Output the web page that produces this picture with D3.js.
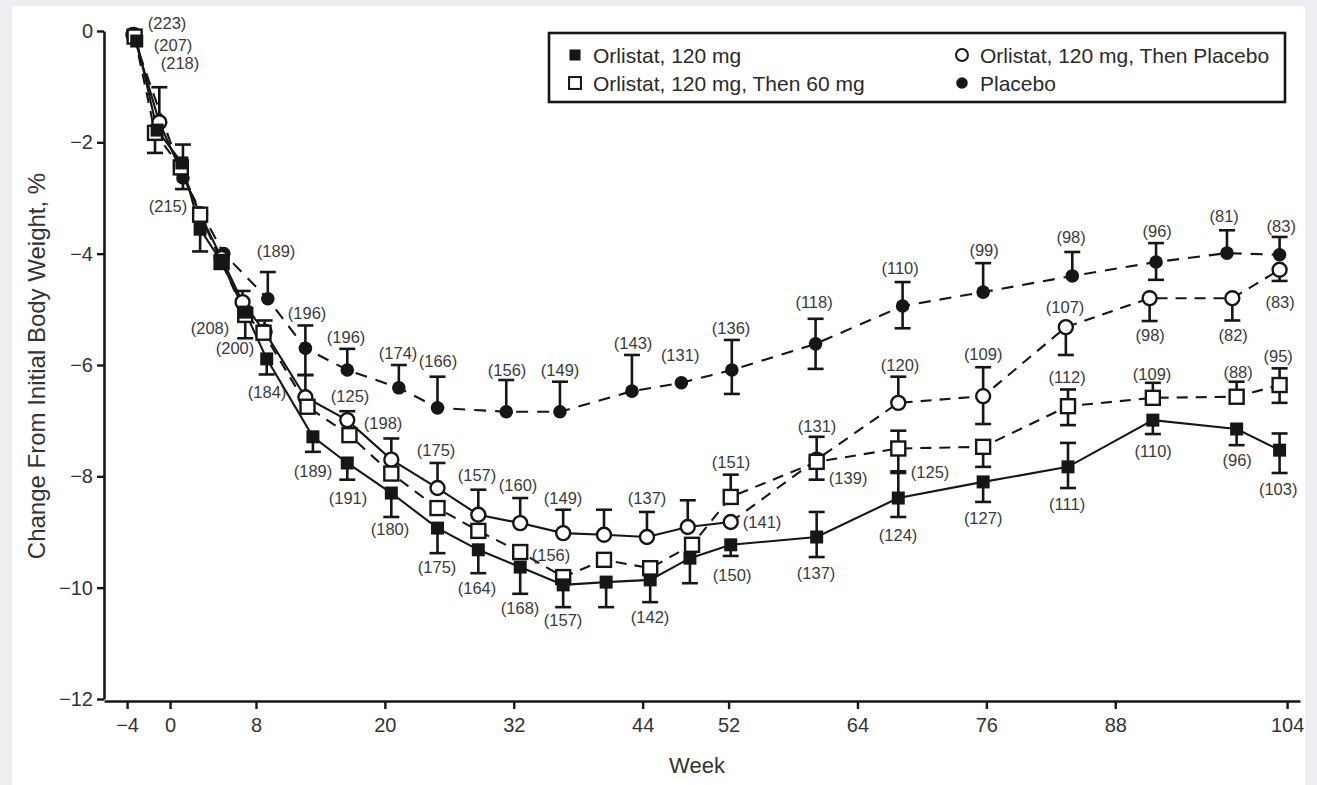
<!DOCTYPE html>
<html>
<head>
<meta charset="utf-8">
<script src="https://cdn.jsdelivr.net/npm/d3@7"></script>
<style>
  body { margin: 0; background: #eceef2; }
  svg { display: block; font-family: "Liberation Sans", Arial, sans-serif; }
</style>
</head>
<body>
<svg id="chart" width="1317" height="785"></svg>
<script>
"use strict";

// ---- data (week, % change, SE bar drawn up / down) ----
const seriesNames = ["Orlistat, 120 mg", "Orlistat, 120 mg, Then 60 mg",
                     "Orlistat, 120 mg, Then Placebo", "Placebo"];

// Orlistat 120 mg (filled square)
const orlWeeks = [-3.1, -1.2, 1.1, 2.8, 4.8, 7.0, 9.0, 13.3, 16.5, 20.6, 24.9, 28.7, 32.6, 36.6, 40.6, 44.7, 48.4, 52.2, 60.2, 67.8, 75.7, 83.6, 91.5, 99.3, 103.3];
const orlMean  = [-0.18, -1.78, -2.37, -3.56, -4.15, -5.05, -5.89, -7.29, -7.76, -8.30, -8.93, -9.32, -9.63, -9.95, -9.90, -9.86, -9.47, -9.23, -9.09, -8.39, -8.10, -7.83, -6.99, -7.15, -7.53];
const orlErrUp = [0, 0, 0, 0, 0, 0, 0, 0, 0, 0, 0, 0, 0, 0, 0, 0, 0, 0, 0.45, 0.45, 0, 0.43, 0, 0, 0.30];
const orlErrDn = [0, 0, 0, 0.40, 0, 0, 0.28, 0.27, 0.30, 0.43, 0.45, 0.42, 0.48, 0.40, 0.45, 0.40, 0.45, 0.20, 0.36, 0.34, 0.36, 0.38, 0.25, 0.29, 0.41];

// Orlistat 120 mg, then 60 mg (open square)
const o60Weeks = [-3.3, -1.4, 1.0, 2.8, 4.8, 7.0, 8.7, 12.8, 16.7, 20.6, 24.9, 28.7, 32.6, 36.6, 40.4, 44.7, 48.6, 52.2, 60.2, 67.8, 75.7, 83.6, 91.5, 99.3, 103.3];
const o60Mean  = [-0.10, -1.83, -2.45, -3.30, -4.15, -5.10, -5.42, -6.75, -7.26, -7.95, -8.57, -8.98, -9.36, -9.81, -9.50, -9.65, -9.23, -8.37, -7.74, -7.50, -7.47, -6.74, -6.59, -6.57, -6.36];
const o60ErrUp = [0, 0, 0, 0, 0, 0, 0, 0, 0, 0, 0, 0, 0, 0, 0, 0, 0, 0.40, 0.45, 0.32, 0, 0.30, 0.27, 0.27, 0.30];
const o60ErrDn = [0, 0.36, 0, 0, 0, 0.42, 0, 0, 0, 0, 0, 0, 0, 0, 0, 0, 0, 0, 0.32, 0.41, 0.36, 0.34, 0, 0, 0.32];

// Orlistat 120 mg, then placebo (open circle)
const oplWeeks = [-3.4, -1.0, 2.8, 4.8, 6.75, 8.8, 12.6, 16.5, 20.6, 24.9, 28.7, 32.6, 36.6, 40.4, 44.4, 48.2, 52.2, 60.2, 67.8, 75.7, 83.4, 91.2, 98.9, 103.3];
const oplMean  = [-0.07, -1.64, -3.29, -4.08, -4.87, -5.40, -6.58, -6.99, -7.70, -8.21, -8.69, -8.84, -9.02, -9.05, -9.09, -8.91, -8.82, -7.70, -6.68, -6.56, -5.32, -4.80, -4.80, -4.29];
const oplErrUp = [0, 0.63, 0, 0, 0.20, 0.20, 0.40, 0.16, 0.38, 0.45, 0.45, 0.45, 0.42, 0.45, 0.45, 0.48, 0, 0, 0.47, 0.52, 0, 0, 0, 0];
const oplErrDn = [0, 0, 0, 0, 0, 0, 0, 0, 0, 0, 0, 0, 0, 0, 0, 0, 0, 0, 0, 0.50, 0.50, 0.41, 0.40, 0.20];

// Placebo (filled circle)
const plaWeeks = [-3.5, 1.2, 5.0, 9.1, 12.6, 16.5, 21.3, 24.9, 31.3, 36.3, 43.0, 47.6, 52.3, 60.1, 68.2, 75.7, 84.0, 91.8, 98.4, 103.3];
const plaMean  = [-0.05, -2.64, -4.00, -4.81, -5.70, -6.09, -6.41, -6.77, -6.84, -6.84, -6.47, -6.32, -6.09, -5.62, -4.94, -4.69, -4.40, -4.15, -3.99, -4.02];
const plaErrUp = [0, 0.60, 0, 0.48, 0.41, 0.38, 0.41, 0.56, 0.57, 0.54, 0.65, 0, 0.54, 0.45, 0.43, 0.52, 0.43, 0.34, 0.41, 0.32];
const plaErrDn = [0, 0.20, 0, 0, 0.48, 0, 0, 0, 0, 0, 0, 0, 0.43, 0.45, 0.40, 0, 0, 0.32, 0, 0];

// number of patients, anchored in data units [text, week, value]
const nLabels = [
  ["(223)", -0.28, 0.14], ["(207)", 0.28, -0.25], ["(218)", 0.93, -0.57], ["(215)", -0.19, -3.14],
  ["(189)", 9.87, -3.95], ["(208)", 3.72, -5.34], ["(200)", 6.05, -5.69], ["(184)", 9.03, -6.49],
  ["(196)", 12.76, -5.07], ["(196)", 16.39, -5.50], ["(174)", 21.23, -5.78], ["(166)", 24.95, -5.93],
  ["(125)", 16.76, -6.56], ["(198)", 19.83, -7.04], ["(189)", 13.31, -7.90], ["(191)", 16.57, -8.39],
  ["(175)", 24.77, -7.53], ["(180)", 20.48, -8.95], ["(157)", 28.58, -7.98], ["(160)", 32.4, -8.16],
  ["(149)", 36.59, -8.39], ["(175)", 24.86, -9.63], ["(164)", 28.58, -10.01], ["(156)", 35.47, -9.41],
  ["(168)", 32.59, -10.36], ["(157)", 36.59, -10.58], ["(137)", 44.41, -8.39], ["(142)", 44.69, -10.53],
  ["(156)", 31.38, -6.09], ["(149)", 36.31, -6.09], ["(143)", 43.11, -5.60], ["(131)", 47.49, -5.82],
  ["(136)", 52.23, -5.33], ["(151)", 52.23, -7.74], ["(141)", 55.12, -8.82], ["(150)", 52.33, -9.77],
  ["(118)", 59.96, -4.87], ["(131)", 60.24, -7.10], ["(139)", 63.13, -8.03], ["(137)", 60.15, -9.74],
  ["(110)", 67.97, -4.26], ["(120)", 67.97, -6.00], ["(125)", 70.76, -7.92], ["(124)", 67.78, -9.05],
  ["(99)", 75.79, -3.93], ["(109)", 75.7, -5.80], ["(127)", 75.7, -8.75],
  ["(98)", 83.89, -3.70], ["(107)", 83.33, -4.96], ["(112)", 83.52, -6.22], ["(111)", 83.52, -8.50],
  ["(96)", 91.9, -3.59], ["(98)", 91.25, -5.46], ["(109)", 91.43, -6.16], ["(110)", 91.53, -7.54],
  ["(81)", 98.14, -3.32], ["(82)", 98.98, -5.46], ["(88)", 99.44, -6.13], ["(96)", 99.35, -7.71],
  ["(83)", 103.45, -3.50], ["(83)", 103.35, -4.87], ["(95)", 103.17, -5.84], ["(103)", 103.17, -8.23]
];

const xTicks = [-4, 0, 8, 20, 32, 44, 52, 64, 76, 88, 104];
const yTicks = [0, -2, -4, -6, -8, -10, -12];

// ---- drawing ----
const ink = "#161616";
const svg = d3.select("#chart");

// white sheet over the grey page
svg.append("rect").attr("x", 12).attr("y", 6).attr("width", 1293).attr("height", 779).attr("fill", "#fff");

const x = d3.scaleLinear().domain([-6.15, 105.2]).range([104, 1300]);
const y = d3.scaleLinear().domain([-12, 0]).range([699, 31]);

const series = {
  orl: {name: seriesNames[0], weeks: orlWeeks, mean: orlMean, up: orlErrUp, dn: orlErrDn, marker: "fsquare", dash: null, dashAfter: null},
  o60: {name: seriesNames[1], weeks: o60Weeks, mean: o60Mean, up: o60ErrUp, dn: o60ErrDn, marker: "osquare", dash: "11,8", dashAfter: null},
  opl: {name: seriesNames[2], weeks: oplWeeks, mean: oplMean, up: oplErrUp, dn: oplErrDn, marker: "ocircle", dash: "11,8", dashAfter: 52.2},
  pla: {name: seriesNames[3], weeks: plaWeeks, mean: plaMean, up: plaErrUp, dn: plaErrDn, marker: "fcircle", dash: "12,9", dashAfter: null}
};
// stacking order, bottom to top
const drawOrder = [series.pla, series.opl, series.o60, series.orl];

const line = d3.line().x(d => x(d.w)).y(d => y(d.v));

function points(s) {
  return s.weeks.map((w, i) => ({w: w, v: s.mean[i], up: s.up[i], dn: s.dn[i]}));
}

function drawMarker(g, type) {
  if (type === "fsquare") {
    g.append("rect").attr("x", -6.5).attr("y", -6.5).attr("width", 13).attr("height", 13).attr("fill", ink);
  } else if (type === "osquare") {
    g.append("rect").attr("x", -7).attr("y", -7).attr("width", 14).attr("height", 14)
      .attr("fill", "#fff").attr("stroke", ink).attr("stroke-width", 2.4);
  } else if (type === "ocircle") {
    g.append("circle").attr("r", 7).attr("fill", "#fff").attr("stroke", ink).attr("stroke-width", 2.4);
  } else {
    g.append("circle").attr("r", 6.8).attr("fill", ink);
  }
}

// lines
const lineG = svg.append("g").attr("fill", "none").attr("stroke", ink).attr("stroke-width", 2.1);
drawOrder.forEach(s => {
  const pts = points(s);
  if (s.dashAfter !== null) {
    lineG.append("path").attr("d", line(pts.filter(p => p.w <= s.dashAfter)));
    lineG.append("path").attr("d", line(pts.filter(p => p.w >= s.dashAfter))).attr("stroke-dasharray", s.dash);
  } else {
    lineG.append("path").attr("d", line(pts)).attr("stroke-dasharray", s.dash);
  }
});

// error bars and markers
drawOrder.forEach(s => {
  const g = svg.append("g");
  points(s).forEach(p => {
    [["up", p.up], ["dn", p.dn]].forEach(([dir, e]) => {
      if (!e) return;
      const end = dir === "up" ? p.v + e : p.v - e;
      g.append("line").attr("x1", x(p.w)).attr("x2", x(p.w)).attr("y1", y(p.v)).attr("y2", y(end))
        .attr("stroke", ink).attr("stroke-width", 2.6);
      g.append("line").attr("x1", x(p.w) - 8).attr("x2", x(p.w) + 8).attr("y1", y(end)).attr("y2", y(end))
        .attr("stroke", ink).attr("stroke-width", 2.6);
    });
  });
  points(s).forEach(p => {
    drawMarker(g.append("g").attr("transform", `translate(${x(p.w)},${y(p.v)})`), s.marker);
  });
});

// n labels
svg.append("g").selectAll("text").data(nLabels).enter().append("text")
  .attr("x", d => x(d[1])).attr("y", d => y(d[2]))
  .attr("text-anchor", "middle").attr("dominant-baseline", "central")
  .attr("font-size", 16.5).attr("fill", "#3a3a3a")
  .text(d => d[0]);

// axes
const minus = d => d < 0 ? "\u2212" + Math.abs(d) : String(d);

const yAxis = svg.append("g").attr("transform", "translate(104,0)")
  .call(d3.axisLeft(y).tickValues(yTicks).tickFormat(minus).tickSize(7).tickSizeOuter(0).tickPadding(4));
const xAxis = svg.append("g").attr("transform", `translate(0,${y(-12) + 2})`)
  .call(d3.axisBottom(x).tickValues(xTicks).tickFormat(minus).tickSize(8).tickSizeOuter(0).tickPadding(9));

[yAxis, xAxis].forEach(a => {
  a.select(".domain").attr("stroke", ink).attr("stroke-width", 2.6);
  a.selectAll(".tick line").attr("stroke", ink).attr("stroke-width", 2.4);
  a.selectAll(".tick text").attr("font-size", 20).attr("fill", "#333").attr("font-family", "Liberation Sans, Arial, sans-serif");
});

svg.append("text").attr("x", 697).attr("y", 773).attr("text-anchor", "middle")
  .attr("font-size", 22).attr("fill", "#333").text("Week");

svg.append("text").attr("transform", "translate(45,366) rotate(-90)").attr("text-anchor", "middle")
  .attr("font-size", 24).attr("fill", "#333").text("Change From Initial Body Weight, %");

// legend
const legend = svg.append("g").attr("transform", "translate(549,33)");
legend.append("rect").attr("width", 736).attr("height", 69).attr("fill", "#fff")
  .attr("stroke", ink).attr("stroke-width", 2.6);

const legendOrder = [
  {s: series.orl, col: 0, row: 0}, {s: series.opl, col: 1, row: 0},
  {s: series.o60, col: 0, row: 1}, {s: series.pla, col: 1, row: 1}
];
legendOrder.forEach(e => {
  const gx = e.col === 0 ? 26 : 413;
  const gy = e.row === 0 ? 22 : 50;
  const item = legend.append("g").attr("transform", `translate(${gx},${gy})`);
  drawMarker(item.append("g").attr("transform", "scale(0.85)"), e.s.marker);
  item.append("text").attr("x", 18).attr("y", 0).attr("dominant-baseline", "central")
    .attr("font-size", 21).attr("fill", "#2a2a2a").text(e.s.name);
});
</script>
</body>
</html>
